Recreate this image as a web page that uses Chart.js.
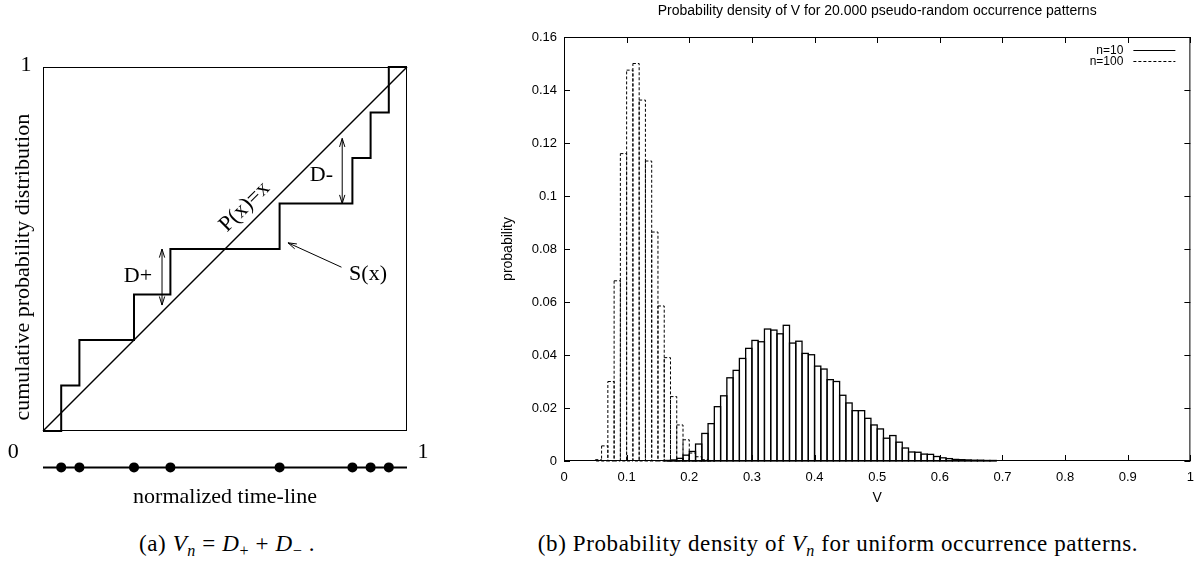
<!DOCTYPE html>
<html lang="en">
<head>
<meta charset="UTF-8">
<title>V_n statistic</title>
<script src="https://cdn.jsdelivr.net/npm/chart.js"></script>
<style>
    body { margin: 0; background: #fff; }
    #page { position: relative; width: 1203px; height: 570px; overflow: hidden; background: #fff; }
    .panel { position: absolute; top: 0; }
    .caption {
        position: absolute;
        font-family: 'Liberation Serif', serif;
        font-size: 23px;
        letter-spacing: 0.6px;
        line-height: 1;
        white-space: nowrap;
        transform: translateX(-50%);
    }
    .caption sub { font-size: 70%; vertical-align: -0.3em; }
</style>
</head>
<body>
<div id="page">
    <canvas id="cumChart" class="panel" style="left:0" width="440" height="520"></canvas>
    <canvas id="densChart" class="panel" style="left:440px" width="763" height="520"></canvas>
    <div class="caption" style="left:227px; top:532px">(a) <i>V<sub>n</sub></i> = <i>D</i><sub>+</sub> + <i>D</i><sub>&minus;</sub> .</div>
    <div class="caption" style="left:838px; top:532px">(b) Probability density of <i>V<sub>n</sub></i> for uniform occurrence patterns.</div>
</div>
<script>
    // ---- (a) empirical distribution S(x) of 8 occurrences vs P(x)=x ----
    const occurrences = [0.05, 0.10, 0.25, 0.35, 0.65, 0.85, 0.90, 0.95];
    const stepLevels = [0.125, 0.25, 0.375, 0.5, 0.625, 0.75, 0.875, 1];
    const timelineY = -0.1; // the time-line sits under the box
    const dPlusArrow = [0.327, 0.346, 0.5];   // x, y from, y to
    const dMinusArrow = [0.822, 0.625, 0.804];
    const sxPointer = [0.82, 0.45, 0.673, 0.517]; // tail x,y -> head x,y

    // ---- (b) histograms of V, bins of width 0.01 ----
    const binWidth = 0.01;
    const binStart = [
        0.05, 0.06, 0.07, 0.08, 0.09, 0.10, 0.11, 0.12, 0.13, 0.14,
        0.15, 0.16, 0.17, 0.18, 0.19, 0.20, 0.21, 0.22, 0.23, 0.24,
        0.25, 0.26, 0.27, 0.28, 0.29, 0.30, 0.31, 0.32, 0.33, 0.34,
        0.35, 0.36, 0.37, 0.38, 0.39, 0.40, 0.41, 0.42, 0.43, 0.44,
        0.45, 0.46, 0.47, 0.48, 0.49, 0.50, 0.51, 0.52, 0.53, 0.54,
        0.55, 0.56, 0.57, 0.58, 0.59, 0.60, 0.61, 0.62, 0.63, 0.64,
        0.65, 0.66, 0.67, 0.68, 0.69, 0.70
    ];
    const dens10 = [
        0, 0, 0, 0, 0, 0, 0, 0, 0, 0,
        0, 0.0002, 0.0004, 0.0010, 0.0022, 0.0036, 0.0064, 0.0104, 0.0141, 0.0205,
        0.0246, 0.0314, 0.0342, 0.0387, 0.0425, 0.0455, 0.0450, 0.0498, 0.0494, 0.0480,
        0.0512, 0.0445, 0.0452, 0.0406, 0.0401, 0.0358, 0.0347, 0.0307, 0.0300, 0.0248,
        0.0219, 0.0190, 0.0190, 0.0161, 0.0136, 0.0121, 0.0086, 0.0096, 0.0071, 0.0049,
        0.0034, 0.0033, 0.0026, 0.0025, 0.0017, 0.0012, 0.0009, 0.0006, 0.0005, 0.0004,
        0.0003, 0.0003, 0.0002, 0.0002, 0.0001, 0.0001
    ];
    const dens100 = [
        0.0005, 0.0057, 0.0300, 0.0680, 0.1160, 0.1475, 0.1500, 0.1362, 0.1132, 0.0864,
        0.0585, 0.0390, 0.0243, 0.0136, 0.0080, 0.0030, 0.0016, 0.0005, 0.0002, 0,
        0, 0, 0, 0, 0, 0, 0, 0, 0, 0,
        0, 0, 0, 0, 0, 0, 0, 0, 0, 0,
        0, 0, 0, 0, 0, 0, 0, 0, 0, 0,
        0, 0, 0, 0, 0, 0, 0, 0, 0, 0,
        0, 0, 0, 0, 0, 0
    ];

    const serif = '"Liberation Serif", "Times New Roman", serif';
    const sans = '"Liberation Sans", Arial, sans-serif';

    // open arrow head pointing at (tx, ty)
    function arrowHead(ctx, fx, fy, tx, ty) {
        const ang = Math.atan2(ty - fy, tx - fx);
        const len = 9, spread = 0.3;
        ctx.moveTo(tx - len * Math.cos(ang - spread), ty - len * Math.sin(ang - spread));
        ctx.lineTo(tx, ty);
        ctx.lineTo(tx - len * Math.cos(ang + spread), ty - len * Math.sin(ang + spread));
    }

    // frame, arrows and labels of the sketch in (a)
    const sketchDecor = {
        id: 'sketchDecor',
        afterDatasetsDraw(chart) {
            const {ctx, scales: {x, y}} = chart;
            const px = v => x.getPixelForValue(v);
            const py = v => y.getPixelForValue(v);
            ctx.save();
            ctx.strokeStyle = '#000';
            ctx.fillStyle = '#000';
            ctx.lineWidth = 1;
            // the unit box
            const l = Math.round(px(0)) + 0.5, t = Math.round(py(1)) + 0.5;
            const r = Math.round(px(1)) - 0.5, b = Math.round(py(0)) - 0.5;
            ctx.strokeRect(l, t, r - l, b - t);

            // double arrows D+ and D-, pointer to S(x)
            ctx.beginPath();
            [dPlusArrow, dMinusArrow].forEach(([ax, y0, y1]) => {
                ctx.moveTo(px(ax), py(y0));
                ctx.lineTo(px(ax), py(y1));
                arrowHead(ctx, px(ax), py(y0), px(ax), py(y1));
                arrowHead(ctx, px(ax), py(y1), px(ax), py(y0));
            });
            const [tx, ty, hx, hy] = sxPointer;
            ctx.moveTo(px(tx), py(ty));
            ctx.lineTo(px(hx), py(hy));
            arrowHead(ctx, px(tx), py(ty), px(hx), py(hy));
            ctx.stroke();

            ctx.font = '22px ' + serif;
            ctx.textAlign = 'center';
            ctx.textBaseline = 'middle';
            ctx.fillText('D+', px(0.261), py(0.424));
            ctx.fillText('D-', px(0.765), py(0.703));
            ctx.fillText('S(x)', px(0.893), py(0.431));
            ctx.fillText('0', px(-0.082), py(-0.058));
            ctx.fillText('1', px(1.044), py(-0.058));
            ctx.fillText('1', px(-0.047), py(1.005));
            ctx.fillText('normalized time-line', px(0.5), py(-0.181));

            ctx.save();
            ctx.translate(px(0.554), py(0.616));
            ctx.rotate(-Math.PI / 4);
            ctx.fillText('P(x)=x', 0, 0);
            ctx.restore();

            ctx.save();
            ctx.translate(px(-0.053), py(0.45));
            ctx.rotate(-Math.PI / 2);
            ctx.fillText('cumulative probability distribution', 0, 0);
            ctx.restore();
            ctx.restore();
        }
    };

    const stepPoints = [{x: 0, y: 0}]
        .concat(occurrences.map((t, i) => ({x: t, y: stepLevels[i]})))
        .concat([{x: 1, y: 1}]);

    // y runs from -0.15 so the time-line and its dots fall inside the chart area;
    // the unit box (0..1) is drawn by the plugin
    new Chart(document.getElementById('cumChart'), {
        type: 'scatter',
        data: {
            datasets: [
                {
                    label: 'S(x)', type: 'line', data: stepPoints, stepped: true,
                    borderColor: '#000', borderWidth: 2, pointRadius: 0, fill: false, clip: false
                },
                {
                    label: 'P(x)=x', type: 'line', data: [{x: 0, y: 0}, {x: 1, y: 1}],
                    borderColor: '#000', borderWidth: 1.5, pointRadius: 0, fill: false, clip: false
                },
                {
                    label: 'time-line', type: 'line', data: [{x: 0, y: timelineY}, {x: 1, y: timelineY}],
                    borderColor: '#000', borderWidth: 2, pointRadius: 0, fill: false, clip: false
                },
                {
                    label: 'occurrences', data: occurrences.map(t => ({x: t, y: timelineY})),
                    pointRadius: 5, pointBackgroundColor: '#000', backgroundColor: '#000',
                    borderWidth: 0, clip: false
                }
            ]
        },
        options: {
            responsive: false,
            animation: false,
            layout: {padding: {left: 43, right: 33, top: 67, bottom: 34.4}},
            plugins: {legend: {display: false}, tooltip: {enabled: false}},
            scales: {
                x: {type: 'linear', min: 0, max: 1, display: false},
                y: {type: 'linear', min: -0.15, max: 1, display: false}
            }
        },
        plugins: [sketchDecor]
    });

    // gnuplot-like frame with inward ticks on all four sides
    const gnuFrame = {
        id: 'gnuFrame',
        afterDatasetsDraw(chart) {
            const {ctx, chartArea: a, scales: {x, y}} = chart;
            ctx.save();
            ctx.strokeStyle = '#000';
            ctx.lineWidth = 1;
            ctx.setLineDash([]);
            ctx.strokeRect(a.left + 0.5, a.top + 0.5, a.width - 1, a.height - 1);
            ctx.beginPath();
            x.ticks.forEach(t => {
                const p = Math.round(x.getPixelForValue(t.value)) + 0.5;
                ctx.moveTo(p, a.bottom); ctx.lineTo(p, a.bottom - 6);
                ctx.moveTo(p, a.top); ctx.lineTo(p, a.top + 6);
            });
            y.ticks.forEach(t => {
                const p = Math.round(y.getPixelForValue(t.value)) + 0.5;
                ctx.moveTo(a.left, p); ctx.lineTo(a.left + 6, p);
                ctx.moveTo(a.right, p); ctx.lineTo(a.right - 6, p);
            });
            ctx.stroke();
            ctx.restore();
        }
    };

    // outline boxes (solid or dashed) around the bar elements, gnuplot "with boxes"
    const outlineBoxes = {
        id: 'outlineBoxes',
        afterDatasetsDraw(chart) {
            const ctx = chart.ctx;
            chart.data.datasets.forEach((ds, i) => {
                const meta = chart.getDatasetMeta(i);
                ctx.save();
                ctx.strokeStyle = '#000';
                ctx.lineWidth = ds.dash ? 1 : 1.3;
                ctx.setLineDash(ds.dash || []);
                meta.data.forEach(el => {
                    const {x, y, base, width} = el.getProps(['x', 'y', 'base', 'width'], true);
                    if (base - y < 0.3) return;
                    ctx.strokeRect(x - width / 2, y, width, base - y);
                });
                ctx.restore();
            });
        }
    };

    // key in the top right corner, gnuplot style
    const cornerKey = {
        id: 'cornerKey',
        afterDraw(chart) {
            const {ctx, chartArea: a} = chart;
            ctx.save();
            ctx.font = '12px ' + sans;
            ctx.fillStyle = '#000';
            ctx.strokeStyle = '#000';
            ctx.lineWidth = 1;
            ctx.textAlign = 'right';
            ctx.textBaseline = 'middle';
            chart.data.datasets.forEach((ds, i) => {
                const yy = 50.5 + i * 11;
                ctx.fillText(ds.label, a.right - 67, yy);
                ctx.setLineDash(ds.dash || []);
                ctx.beginPath();
                ctx.moveTo(a.right - 57, yy);
                ctx.lineTo(a.right - 15, yy);
                ctx.stroke();
            });
            ctx.restore();
        }
    };

    const points10 = binStart.map((b, i) => ({x: b + binWidth / 2, y: dens10[i]}));
    const points100 = binStart.map((b, i) => ({x: b + binWidth / 2, y: dens100[i]}));

    new Chart(document.getElementById('densChart'), {
        type: 'bar',
        data: {
            datasets: [
                {
                    label: 'n=10', data: points10,
                    borderColor: '#000', borderWidth: 0, backgroundColor: 'rgba(255,255,255,0)'
                },
                {
                    label: 'n=100', data: points100, dash: [3, 2],
                    borderColor: '#000', borderWidth: 0, backgroundColor: 'rgba(255,255,255,0)'
                }
            ]
        },
        options: {
            responsive: false,
            animation: false,
            layout: {padding: {left: 58, right: 6, top: 0, bottom: 9}},
            datasets: {bar: {grouped: false, barPercentage: 1, categoryPercentage: 1}},
            plugins: {
                legend: {display: false},
                tooltip: {enabled: false},
                title: {
                    display: true, fullSize: false, color: '#000',
                    text: 'Probability density of V for 20.000 pseudo-random occurrence patterns',
                    font: {family: sans, size: 14, weight: 'normal'},
                    padding: {top: 3, bottom: 17.2}
                }
            },
            scales: {
                x: {
                    type: 'linear', min: 0, max: 1, offset: false,
                    grid: {display: false, drawTicks: false}, border: {display: false},
                    ticks: {
                        stepSize: 0.1, padding: 9, color: '#000', maxRotation: 0, autoSkip: false,
                        font: {family: sans, size: 13},
                        callback: v => String(+v.toFixed(1))
                    },
                    title: {display: true, text: 'V', color: '#000', font: {family: sans, size: 14}, padding: 4.6},
                    afterFit: s => { s.height = 50; }
                },
                y: {
                    type: 'linear', min: 0, max: 0.16,
                    grid: {display: false, drawTicks: false}, border: {display: false},
                    ticks: {
                        stepSize: 0.02, padding: 7, color: '#000',
                        font: {family: sans, size: 13},
                        callback: v => String(+v.toFixed(2))
                    },
                    title: {display: true, text: 'probability', color: '#000', font: {family: sans, size: 14}, padding: 2},
                    afterFit: s => { s.width = 66; }
                }
            }
        },
        plugins: [outlineBoxes, gnuFrame, cornerKey]
    });
</script>
</body>
</html>
